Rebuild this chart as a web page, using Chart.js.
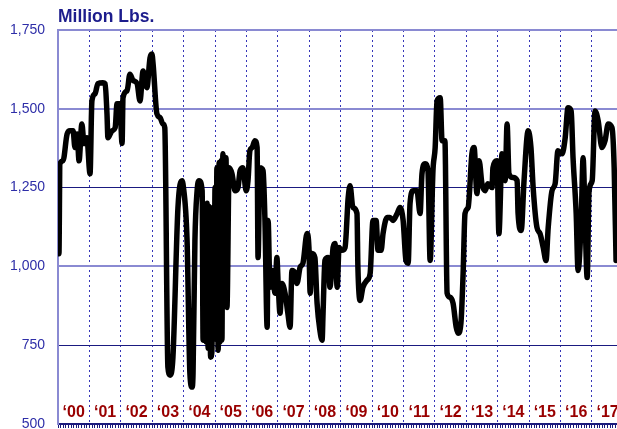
<!DOCTYPE html>
<html>
<head>
<meta charset="utf-8">
<script src="https://cdn.jsdelivr.net/npm/chart.js@4/dist/chart.umd.min.js"></script>
<style>
  body { margin: 0; background: #ffffff; }
  #box { width: 617px; height: 429px; position: relative; }
</style>
</head>
<body>
<div id="box"><canvas id="myChart"></canvas></div>
<script>
const titleText = "Million Lbs.";
const yearStarts = [2000, 2001, 2002, 2003, 2004, 2005, 2006, 2007, 2008, 2009, 2010, 2011, 2012, 2013, 2014, 2015, 2016, 2017];
const yearLabels = ["\u201800", "\u201801", "\u201802", "\u201803", "\u201804", "\u201805", "\u201806", "\u201807", "\u201808", "\u201809", "\u201810", "\u201811", "\u201812", "\u201813", "\u201814", "\u201815", "\u201816", "\u201817"];
const yTicks = [500, 750, 1000, 1250, 1500, 1750];

// decimal year of each reading
const dates = [
  2000.00, 2000.03, 2000.06, 2000.16, 2000.29, 2000.38, 2000.48, 2000.54, 2000.61, 2000.67, 2000.76, 2000.83, 2000.92,
  2001.02, 2001.08, 2001.18, 2001.27, 2001.43, 2001.50, 2001.56, 2001.59, 2001.72, 2001.82, 2001.88, 2001.97,
  2002.04, 2002.07, 2002.20, 2002.29, 2002.39, 2002.52, 2002.61, 2002.71, 2002.83, 2002.93, 2002.99,
  2003.03, 2003.15, 2003.25, 2003.34, 2003.40, 2003.50, 2003.57, 2003.66, 2003.82, 2003.95, 2003.98,
  2004.11, 2004.20, 2004.27, 2004.30, 2004.36, 2004.43, 2004.49, 2004.59, 2004.62, 2004.65, 2004.68, 2004.72, 2004.75, 2004.78, 2004.81, 2004.86, 2004.90, 2004.94, 2004.97,
  2005.00, 2005.03, 2005.06, 2005.10, 2005.13, 2005.16, 2005.19, 2005.22, 2005.25, 2005.30, 2005.35, 2005.38, 2005.45, 2005.54, 2005.64, 2005.73, 2005.80, 2005.89, 2005.99,
  2006.05, 2006.11, 2006.18, 2006.27, 2006.34, 2006.37, 2006.43, 2006.53, 2006.59, 2006.66, 2006.69, 2006.75, 2006.82, 2006.91, 2006.97,
  2007.01, 2007.07, 2007.13, 2007.23, 2007.32, 2007.39, 2007.45, 2007.55, 2007.61, 2007.71, 2007.80, 2007.93, 2007.99,
  2008.03, 2008.09, 2008.18, 2008.25, 2008.34, 2008.41, 2008.44, 2008.50, 2008.60, 2008.66, 2008.76, 2008.82, 2008.89, 2008.95,
  2009.04, 2009.14, 2009.24, 2009.30, 2009.39, 2009.52, 2009.55, 2009.62, 2009.71, 2009.84, 2009.94,
  2010.03, 2010.13, 2010.19, 2010.29, 2010.35, 2010.48, 2010.57, 2010.67, 2010.80, 2010.89, 2010.99,
  2011.08, 2011.15, 2011.21, 2011.31, 2011.43, 2011.53, 2011.59, 2011.69, 2011.78, 2011.85, 2011.94,
  2012.01, 2012.07, 2012.17, 2012.23, 2012.32, 2012.39, 2012.48, 2012.58, 2012.68, 2012.74, 2012.83, 2012.90, 2012.96,
  2013.06, 2013.18, 2013.25, 2013.34, 2013.41, 2013.50, 2013.60, 2013.69, 2013.82, 2013.85, 2013.98,
  2014.04, 2014.14, 2014.24, 2014.30, 2014.36, 2014.49, 2014.62, 2014.65, 2014.75, 2014.84, 2014.97,
  2015.06, 2015.13, 2015.25, 2015.35, 2015.45, 2015.54, 2015.61, 2015.73, 2015.83, 2015.92,
  2016.05, 2016.15, 2016.24, 2016.34, 2016.40, 2016.50, 2016.56, 2016.66, 2016.72, 2016.78, 2016.85, 2016.91,
  2017.01, 2017.10, 2017.20, 2017.32, 2017.42, 2017.52, 2017.64, 2017.71, 2017.77
];

// million lbs at each reading
const stocks = [
  1105, 1040, 1325, 1335, 1420, 1430, 1430, 1377, 1420, 1335, 1452, 1390, 1408,
  1294, 1525, 1548, 1580, 1583, 1580, 1484, 1408, 1430, 1440, 1516, 1516,
  1390, 1535, 1557, 1610, 1590, 1580, 1525, 1620, 1567, 1661, 1674,
  1640, 1484, 1472, 1452, 1440, 680, 655, 712, 1187, 1272, 1262,
  1082, 661, 617, 661, 1082, 1240, 1272, 1240, 766, 1150, 1187, 760, 1200, 740, 1190, 712, 730, 1187, 780,
  1250, 770, 1313, 734, 1330, 760, 1335, 766, 1357, 1300, 1345, 870, 1313, 1294, 1240, 1250, 1304, 1313, 1240,
  1272, 1367, 1377, 1399, 1377, 1028, 1313, 1304, 1146, 807, 1146, 934, 987, 915, 1028,
  946, 851, 946, 915, 851, 807, 987, 978, 946, 997, 1010, 1104, 1060,
  915, 1041, 1028, 883, 797, 766, 851, 1019, 1028, 934, 1060, 1073, 934, 1060,
  1051, 1060, 1218, 1256, 1187, 1168, 997, 892, 934, 956, 978,
  1146, 1146, 1051, 1051, 1104, 1155, 1155, 1146, 1168, 1187, 1146,
  1019, 1010, 1200, 1240, 1240, 1168, 1294, 1326, 1304, 1019, 1304,
  1377, 1525, 1535, 1399, 1399, 915, 902, 883, 807, 788, 820, 978, 1168,
  1187, 1357, 1377, 1231, 1335, 1262, 1240, 1262, 1250, 1313, 1335,
  1104, 1357, 1272, 1452, 1294, 1282, 1272, 1168, 1114, 1272, 1430,
  1377, 1250, 1124, 1104, 1060, 1019, 1124, 1240, 1262, 1367,
  1357, 1408, 1503, 1493, 1345, 1168, 987, 1146, 1345, 1168, 965, 1240,
  1272, 1493, 1462, 1377, 1399, 1452, 1440, 1313, 1019
];

const xMin = 2000;
const xMax = 2017.8;

function buildPoints() {
  let points = [];
  for (let i = 0; i < dates.length; i++) {
    points.push({ x: dates[i], y: stocks[i] });
  }
  return points;
}

const textPlugin = {
  id: "textPlugin",
  beforeDatasetsDraw(chart) {
    let ctx = chart.ctx;
    let xScale = chart.scales.x;
    let area = chart.chartArea;
    ctx.save();
    ctx.font = "bold 16px Arial";
    ctx.fillStyle = "#990000";
    ctx.textAlign = "center";
    ctx.textBaseline = "alphabetic";
    for (let i = 0; i < yearLabels.length; i++) {
      ctx.fillText(yearLabels[i], xScale.getPixelForValue(yearStarts[i] + 0.5), area.bottom - 7);
    }
    ctx.restore();
  },
  afterDraw(chart) {
    let ctx = chart.ctx;
    ctx.save();
    ctx.font = "bold 17.5px Arial";
    ctx.fillStyle = "#1c1c8c";
    ctx.textAlign = "left";
    ctx.textBaseline = "alphabetic";
    ctx.fillText(titleText, chart.chartArea.left, 22);
    ctx.restore();
  },
};

function isDarkLine(v) {
  return v === 1250 || v === 750 || v === 500;
}

function loadChart() {
  const ctx = document.getElementById("myChart");

  new Chart(ctx, {
    type: "line",
    data: {
      datasets: [
        {
          data: buildPoints(),
          borderColor: "#000000",
          borderWidth: 5.5,
          borderJoinStyle: "round",
          borderCapStyle: "round",
          cubicInterpolationMode: "monotone",
          pointRadius: 0,
          fill: false,
        },
      ],
    },
    options: {
      responsive: true,
      maintainAspectRatio: false,
      animation: false,
      layout: {
        padding: { top: 30, left: 0, right: 0, bottom: 0 },
      },
      scales: {
        x: {
          type: "linear",
          min: xMin,
          max: xMax,
          position: "bottom",
          ticks: {
            display: false,
            stepSize: 1,
            includeBounds: false,
          },
          grid: {
            drawTicks: false,
            color: (c) => (c.tick && c.tick.value === xMin ? "rgba(0,0,0,0)" : "#3535b8"),
            lineWidth: 1,
          },
          border: {
            display: false,
            dash: [2, 3],
          },
          afterFit: (scale) => {
            scale.height = 0;
          },
        },
        x2: {
          type: "linear",
          min: xMin,
          max: xMax,
          position: "bottom",
          ticks: {
            display: false,
            stepSize: 1 / 12,
            maxTicksLimit: 1000,
            autoSkip: false,
            includeBounds: false,
          },
          grid: {
            drawOnChartArea: false,
            tickLength: 4,
            tickColor: "#1a1a7a",
            tickWidth: 1,
          },
          border: {
            color: "#1a1a7a",
            width: 1.5,
          },
          afterFit: (scale) => {
            scale.height = 5;
          },
        },
        y: {
          min: 500,
          max: 1750,
          afterBuildTicks: (scale) => {
            scale.ticks = yTicks.map((v) => ({ value: v }));
          },
          ticks: {
            padding: 0,
            color: "#2e2ea8",
            font: { family: "Arial", size: 14, lineHeight: 0.7 },
            callback: (value) => value.toLocaleString("en-US"),
          },
          grid: {
            drawTicks: true,
            tickLength: 13,
            tickColor: "rgba(0,0,0,0)",
            color: (c) => (isDarkLine(c.tick ? c.tick.value : 0) ? "#1a1a80" : "#8a8ad2"),
            lineWidth: (c) => (isDarkLine(c.tick ? c.tick.value : 0) ? 1 : 2),
          },
          border: {
            color: "#8a8ad2",
            width: 2,
          },
          afterFit: (scale) => {
            scale.width = 58;
          },
        },
      },
      plugins: {
        legend: { display: false },
        tooltip: { enabled: false },
      },
    },
    plugins: [textPlugin],
  });
}

loadChart();
</script>
</body>
</html>
